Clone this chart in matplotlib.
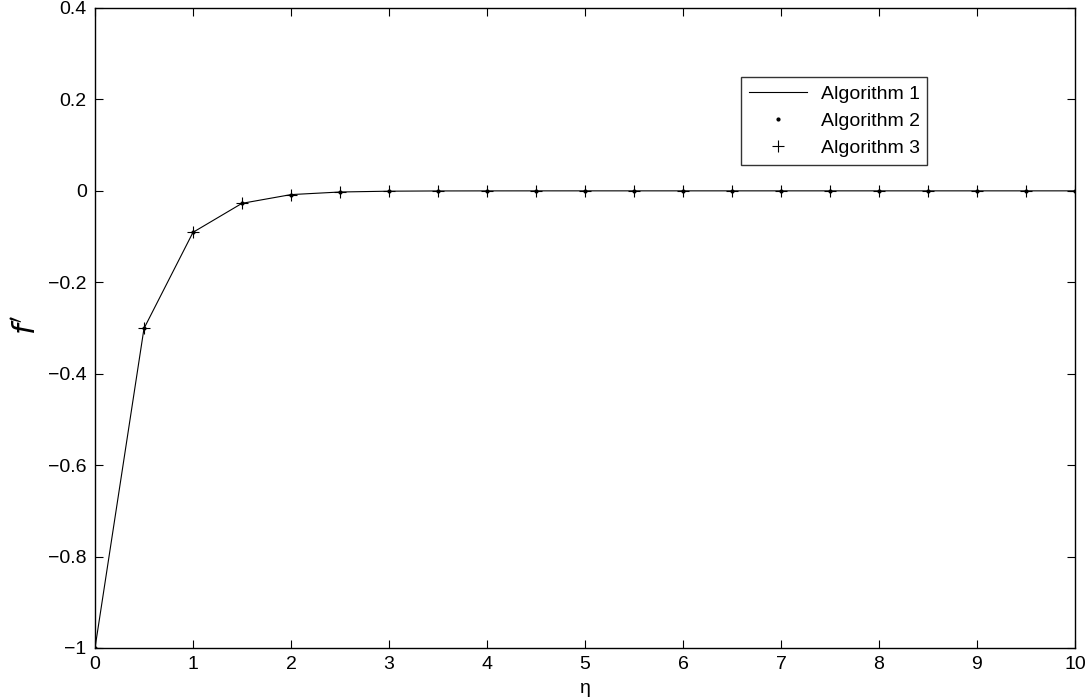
import numpy as np
import matplotlib.pyplot as plt

plt.rcParams['font.family'] = ['Liberation Sans', 'DejaVu Sans']

# eta grid and f' values (all three algorithms coincide)
eta = [0, 0.5, 1, 1.5, 2, 2.5, 3, 3.5, 4, 4.5, 5, 5.5, 6, 6.5, 7, 7.5, 8, 8.5, 9, 9.5, 10]
alg1 = [-1.0, -0.301, -0.0907, -0.0273, -0.0082, -0.0025, -0.0007, -0.0002, -0.00007,
        -0.00002, 0, 0, 0, 0, 0, 0, 0, 0, 0, 0, 0]
alg2 = list(alg1)
alg3 = list(alg1)

fig = plt.figure(figsize=(10.87, 7.0), dpi=100)
ax = fig.add_axes([95 / 1087, 1 - 648 / 700, 980 / 1087, 640 / 700])

ax.plot(eta, alg1, '-', color='black', linewidth=0.8, label='Algorithm 1')
ax.plot(eta, alg2, '.', color='black', markersize=4, label='Algorithm 2')
ax.plot(eta, alg3, '+', color='black', markersize=9, markeredgewidth=0.8, label='Algorithm 3')

ax.set_xlim(0, 10)
ax.set_ylim(-1, 0.4)
ax.set_xticks(np.arange(0, 11, 1))
ax.set_yticks([-1, -0.8, -0.6, -0.4, -0.2, 0, 0.2, 0.4])
ax.set_yticklabels(['\u22121', '\u22120.8', '\u22120.6', '\u22120.4', '\u22120.2', '0', '0.2', '0.4'])
ax.tick_params(direction='in', length=6, width=0.8, labelsize=14, top=True, right=True, pad=6)
for s in ax.spines.values():
    s.set_linewidth(1.0)

ax.set_xlabel('\u03b7', fontsize=14, labelpad=5)
ax.set_ylabel("$f^{\\prime}$", fontsize=22)
ax.yaxis.set_label_coords(-0.054, 0.505)

leg = ax.legend(loc='upper left', bbox_to_anchor=(0.659, 0.892), fontsize=14,
                frameon=True, fancybox=False, edgecolor='black', borderaxespad=0,
                handlelength=3.0, handletextpad=0.7, labelspacing=0.5, borderpad=0.4)
leg.get_frame().set_linewidth(1.0)

fig.savefig('out.png', dpi=100)
